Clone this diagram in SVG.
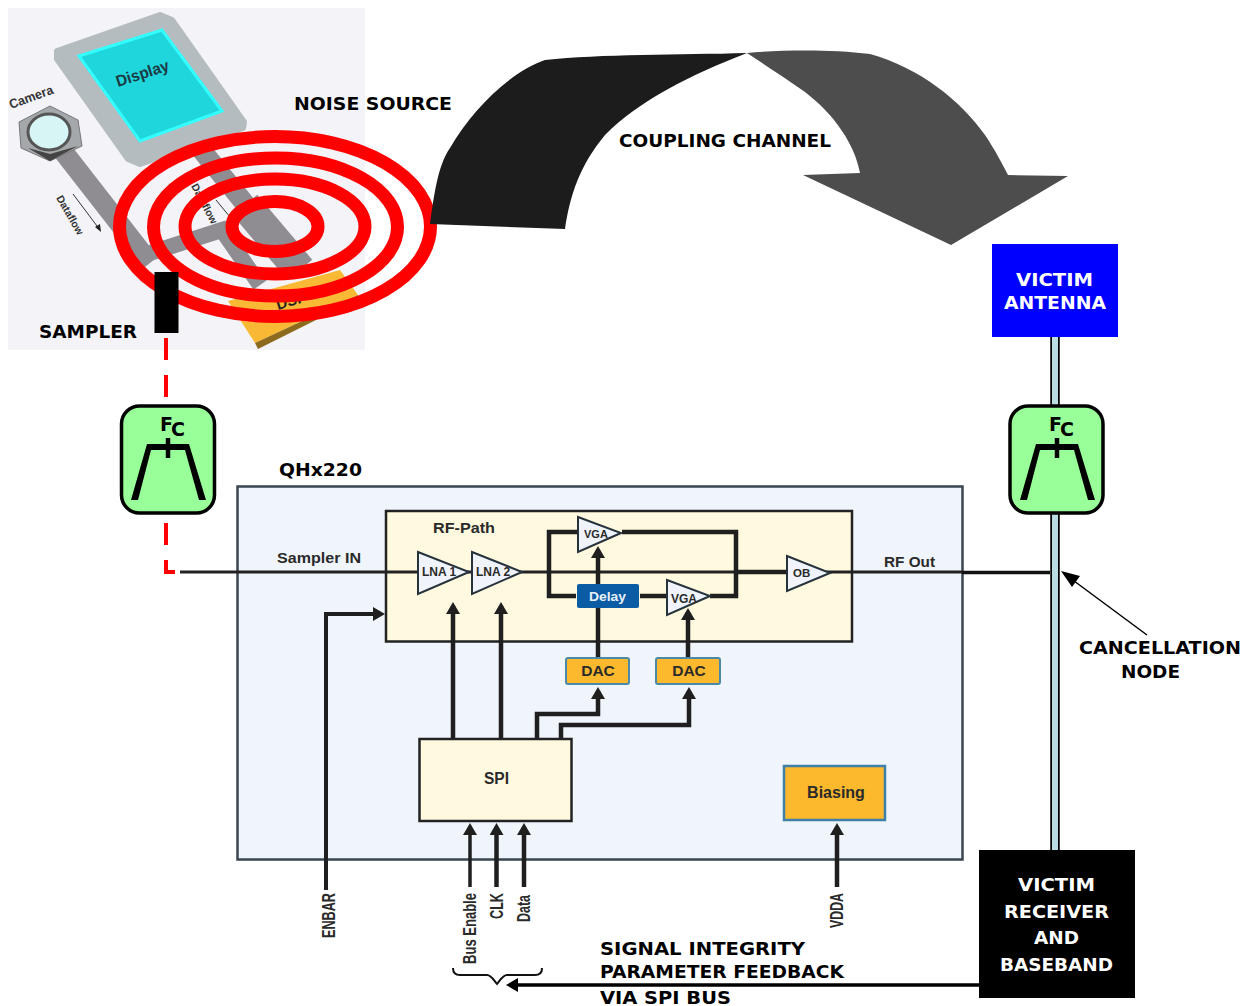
<svg xmlns="http://www.w3.org/2000/svg" width="1244" height="1006" viewBox="0 0 1244 1006">
<style>
.lbl{font-family:"DejaVu Sans",Verdana,sans-serif;font-weight:700;font-size:18.5px;fill:#000}
.chip{font-family:"Liberation Sans",Arial,sans-serif;font-weight:700;fill:#2a2a2a}
.pic{font-family:"Liberation Sans",Arial,sans-serif;font-weight:700}
.w{fill:none;stroke:#1f1f1f;stroke-width:4.5}
.t{fill:#f0f4fa;stroke:#26323c;stroke-width:2}
.filt{fill:#99ff99;stroke:#000;stroke-width:3.5}
.dac{fill:#fdb92e;stroke:#4a8aa8;stroke-width:2}
.strip{fill:none;stroke:#8f8d92}
</style>
<defs>
<marker id="ah" markerUnits="userSpaceOnUse" markerWidth="14" markerHeight="14" refX="8" refY="7" orient="auto"><path d="M0 0L12 7L0 14Z" fill="#1f1f1f"/></marker>
</defs>
<g id="noise-source-picture">
<rect x="8" y="8" width="357" height="342" fill="#f3f3f8"/>
<path class="strip" d="M62 150L150 263" stroke-width="20"/>
<path class="strip" d="M195 142L250 210" stroke-width="20"/>
<path class="strip" d="M245 205L300 270" stroke-width="32"/>
<path class="strip" d="M150 253L222 230L260 285" stroke-width="16"/>
<path d="M57 51L160 15L172 20L244 122L243 128L140 164L128 159L57 59Z" fill="#b4bcc0" stroke="#b4bcc0" stroke-width="6" stroke-linejoin="round"/>
<path d="M79 56L162 30L222 111L140 141Z" fill="#1fd6dc" stroke="#3ff" stroke-width="3"/>
<text class="pic" transform="translate(118 87) rotate(-18)" font-size="16" fill="#1c3a44" textLength="55" lengthAdjust="spacingAndGlyphs">Display</text>
<text class="pic" transform="translate(11 109) rotate(-20)" font-size="13" fill="#333" textLength="46" lengthAdjust="spacingAndGlyphs">Camera</text>
<text class="pic" transform="translate(56 198) rotate(60)" font-size="10.500" fill="#333">Dataflow</text>
<path d="M73 194L100 230" stroke="#333" stroke-width="1" fill="none"/>
<path d="M95 227L101 232L100 224Z" fill="#222"/>
<text class="pic" transform="translate(191 186) rotate(62)" font-size="10.500" fill="#333">Dataflow</text>
<path d="M216 200L230 217" stroke="#333" stroke-width="1" fill="none"/>
<path d="M228 301L340 270L358 295L255 343Z" fill="#f9b935"/>
<path d="M255 343L358 295V299L258 349Z" fill="#8d6b1e"/>
<text class="pic" transform="translate(278 310) rotate(-17)" font-size="15" fill="#222">DSP</text>
<path d="M19 122L50 106L78 120L82 146L50 161L21 148Z" fill="#a4a8aa" stroke="#777" stroke-width="1"/>
<path d="M28 148L50 161L78 146L50 154Z" fill="#444"/>
<ellipse cx="49" cy="132" rx="21" ry="18" fill="#d8f5f6" stroke="#555" stroke-width="3"/>
</g>
<g id="noise-rings" fill="none" stroke="#ff0000" stroke-width="13">
<ellipse cx="275" cy="226.500" rx="155.500" ry="90"/>
<ellipse cx="275.500" cy="227" rx="122" ry="69"/>
<ellipse cx="275" cy="226.500" rx="90" ry="47.500"/>
<ellipse cx="275" cy="226.500" rx="43" ry="25"/>
</g>
<g id="coupling-arrow">
<path d="M430 224C434 195 438 165 450 148C472 110 510 72 545 60C600 54 680 55 747 53C690 75 640 100 605 135C580 165 570 195 565 229Z" fill="#1c1c1c"/>
<path d="M747 53C780 50 830 49 870 54C920 68 960 100 985 135C995 150 1003 165 1008 175L1068 176L951 245L803 175L860 173C855 145 835 115 805 92C785 78 765 65 747 53Z" fill="#4d4d4d"/>
</g>
<g id="labels-top">
<text class="lbl" x="294" y="110" textLength="158" lengthAdjust="spacingAndGlyphs">NOISE SOURCE</text>
<text class="lbl" x="619" y="147" textLength="212" lengthAdjust="spacingAndGlyphs">COUPLING CHANNEL</text>
<text class="lbl" x="39" y="338" textLength="98" lengthAdjust="spacingAndGlyphs">SAMPLER</text>
<text class="lbl" x="279" y="476" textLength="83" lengthAdjust="spacingAndGlyphs">QHx220</text>
</g>
<g id="sampler"><rect x="154.500" y="272" width="24" height="61" fill="#000"/></g>
<g id="connectors">
<path d="M166 338V572H175" fill="none" stroke="#ff0000" stroke-width="4" stroke-dasharray="22 15"/>
<path d="M1055 337V850" stroke="#000" stroke-width="9.500" fill="none"/>
<path d="M1055 337V850" stroke="#b9dde2" stroke-width="6" fill="none"/>
<path d="M980 985H512" stroke="#000" stroke-width="3.500" fill="none"/>
<path d="M518 978L506 985L518 992Z" fill="#000"/>
<path d="M1147 635L1066 575" stroke="#000" stroke-width="1.500" fill="none"/>
<path d="M1061 571L1080 576L1072 587Z" fill="#000"/>
<path d="M453 968C453 973 455 975 460 975H487C491 975 493 979 497 984C501 979 503 975 507 975H535C540 975 542 973 542 968" fill="none" stroke="#111" stroke-width="2"/>
</g>
<g id="chip">
<rect x="237.500" y="486.500" width="725" height="373" fill="#f0f5fc" stroke="#3a4650" stroke-width="2.500"/>
</g>
<g id="rf-path">
<rect x="386" y="511" width="466" height="130.500" fill="#fffadf" stroke="#222" stroke-width="2.500"/>
<text class="chip" x="433" y="533" font-size="14.500" textLength="62" lengthAdjust="spacingAndGlyphs">RF-Path</text>
</g>
<g id="wires">
<path d="M180 572H962" stroke="#222" stroke-width="3" fill="none"/>
<path d="M962 572.500H1050" stroke="#111" stroke-width="3.500" fill="none"/>
<path d="M549 572V532H577M622 532H736V596H710M666 596H640M576 596H549V572M736 572H787" class="w"/>
<path d="M326 890V614H381" class="w" style="stroke-width:4" marker-end="url(#ah)"/>
<path d="M453 739V606" class="w" marker-end="url(#ah)"/>
<path d="M501 739V606" class="w" marker-end="url(#ah)"/>
<path d="M598 657V550" class="w" marker-end="url(#ah)"/>
<path d="M688 657V612" class="w" marker-end="url(#ah)"/>
<path d="M537 739V714H598V691" class="w" marker-end="url(#ah)"/>
<path d="M561 739V725H689V691" class="w" marker-end="url(#ah)"/>
<path d="M470 887V827" class="w" style="stroke-width:3.500" marker-end="url(#ah)"/>
<path d="M496.500 887V827" class="w" marker-end="url(#ah)"/>
<path d="M524 887V827" class="w" marker-end="url(#ah)"/>
<path d="M837 887V827" class="w" marker-end="url(#ah)"/>
</g>
<g id="lna1"><path class="t" d="M418 552L469 572L418 594Z"/><text class="chip" x="422" y="576" font-size="12">LNA 1</text></g>
<g id="lna2"><path class="t" d="M472 552L522 572L472 594Z"/><text class="chip" x="476" y="576" font-size="12">LNA 2</text></g>
<g id="vga1"><path class="t" d="M578 517L621 533L578 552Z"/><text class="chip" x="584" y="538" font-size="11">VGA</text></g>
<g id="vga2"><path class="t" d="M667 580L710 596L667 615Z"/><text class="chip" x="671" y="603" font-size="12">VGA</text></g>
<g id="ob"><path class="t" d="M787 556L830 573L787 591Z"/><text class="chip" x="793" y="577" font-size="11.500">OB</text></g>
<g id="delay"><rect x="577" y="584" width="62" height="24" rx="2" fill="#0b5ba5"/><text class="chip" x="589" y="601" font-size="13" textLength="37" lengthAdjust="spacingAndGlyphs" style="fill:#e8f0f8">Delay</text></g>
<g id="dac1"><rect class="dac" x="566" y="658" width="63" height="26" rx="2"/><text class="chip" x="598" y="676" font-size="15.500" text-anchor="middle">DAC</text></g>
<g id="dac2"><rect class="dac" x="656" y="658" width="64" height="26" rx="2"/><text class="chip" x="689" y="676" font-size="15.500" text-anchor="middle">DAC</text></g>
<g id="spi"><rect x="419.500" y="739" width="152" height="82" fill="#fffadf" stroke="#222" stroke-width="2.500"/><text class="chip" x="484" y="784" font-size="16" textLength="25" lengthAdjust="spacingAndGlyphs">SPI</text></g>
<g id="biasing"><rect x="784" y="766" width="101" height="54" fill="#fdb92e" stroke="#3f7fa8" stroke-width="2.500"/><text class="chip" x="836" y="798" font-size="16" text-anchor="middle">Biasing</text></g>
<g id="chip-labels">
<text class="chip" x="277" y="563" font-size="15" textLength="84" lengthAdjust="spacingAndGlyphs">Sampler IN</text>
<text class="chip" x="884" y="567" font-size="15" textLength="51" lengthAdjust="spacingAndGlyphs">RF Out</text>
<text class="chip" transform="translate(335 938) rotate(-90)" font-size="18" textLength="45" lengthAdjust="spacingAndGlyphs">ENBAR</text>
<text class="chip" transform="translate(476 964) rotate(-90)" font-size="18" textLength="71" lengthAdjust="spacingAndGlyphs">Bus Enable</text>
<text class="chip" transform="translate(503 919) rotate(-90)" font-size="18" textLength="26" lengthAdjust="spacingAndGlyphs">CLK</text>
<text class="chip" transform="translate(530 922) rotate(-90)" font-size="18" textLength="27" lengthAdjust="spacingAndGlyphs">Data</text>
<text class="chip" transform="translate(843 928) rotate(-90)" font-size="18" textLength="35" lengthAdjust="spacingAndGlyphs">VDDA</text>
</g>
<g id="filter-left">
<rect class="filt" x="121.500" y="406" width="93" height="107" rx="18"/>
<path d="M131 500L147 444H189L206 500H199L185 450H151L138 500Z" fill="#000"/><path d="M168 438V458" stroke="#000" stroke-width="4.500"/>
<text class="lbl" x="160" y="431" style="font-size:19px">F</text><text class="lbl" x="171" y="436" style="font-size:19px">C</text>
</g>
<g id="filter-right">
<rect class="filt" x="1010" y="406" width="93" height="107" rx="18"/>
<path d="M1020 500L1036 444H1078L1095 500H1088L1074 450H1040L1027 500Z" fill="#000"/><path d="M1057 438V458" stroke="#000" stroke-width="4.500"/>
<text class="lbl" x="1049" y="431" style="font-size:19px">F</text><text class="lbl" x="1060" y="436" style="font-size:19px">C</text>
</g>
<g id="victim-antenna">
<rect x="992" y="244" width="126" height="93" fill="#0000ff"/>
<text class="lbl" x="1016" y="286" textLength="77" lengthAdjust="spacingAndGlyphs" style="fill:#fff">VICTIM</text>
<text class="lbl" x="1004" y="309" textLength="102" lengthAdjust="spacingAndGlyphs" style="fill:#fff">ANTENNA</text>
</g>
<g id="victim-receiver">
<rect x="979" y="850" width="156" height="148" fill="#000"/>
<text class="lbl" x="1018" y="891" textLength="77" lengthAdjust="spacingAndGlyphs" style="fill:#fff">VICTIM</text>
<text class="lbl" x="1004" y="918" textLength="105" lengthAdjust="spacingAndGlyphs" style="fill:#fff">RECEIVER</text>
<text class="lbl" x="1034" y="944" textLength="45" lengthAdjust="spacingAndGlyphs" style="fill:#fff">AND</text>
<text class="lbl" x="1000" y="971" textLength="113" lengthAdjust="spacingAndGlyphs" style="fill:#fff">BASEBAND</text>
</g>
<g id="labels-bottom">
<text class="lbl" x="1079" y="654" textLength="162" lengthAdjust="spacingAndGlyphs">CANCELLATION</text>
<text class="lbl" x="1121" y="678" textLength="59" lengthAdjust="spacingAndGlyphs">NODE</text>
<text class="lbl" x="600" y="955" textLength="205" lengthAdjust="spacingAndGlyphs">SIGNAL INTEGRITY</text>
<text class="lbl" x="600" y="978" textLength="244" lengthAdjust="spacingAndGlyphs">PARAMETER FEEDBACK</text>
<text class="lbl" x="600" y="1004" textLength="131" lengthAdjust="spacingAndGlyphs">VIA SPI BUS</text>
</g>
</svg>
